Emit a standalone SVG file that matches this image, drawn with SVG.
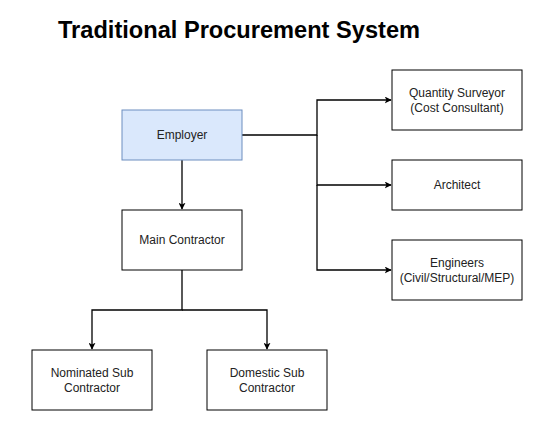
<svg xmlns="http://www.w3.org/2000/svg" width="549" height="431" viewBox="0 0 549 431">
<defs>
<style>
.box{fill:#ffffff;stroke:#000000;stroke-width:1}
.emp{fill:#dae8fc;stroke:#6c8ebf;stroke-width:1}
.lbl{font-family:"Liberation Sans",Arial,sans-serif;font-size:12px;fill:#222222;text-anchor:middle;dominant-baseline:central}
.title{font-family:"Liberation Sans",Arial,sans-serif;font-size:23px;font-weight:bold;fill:#000000}
.edge{fill:none;stroke:#000000;stroke-width:1.3}
</style>
<marker id="arr" viewBox="0 0 10 10" refX="9" refY="5" markerWidth="7" markerHeight="7" markerUnits="userSpaceOnUse" orient="auto">
<path d="M0,0 L10,5 L0,10 L2.5,5 Z" fill="#000000"/>
</marker>
</defs>
<rect width="549" height="431" fill="#ffffff"/>
<text class="title" x="58" y="38" textLength="362" lengthAdjust="spacingAndGlyphs">Traditional Procurement System</text>
<g id="connectors">
<path class="edge" d="M182,160 V209" marker-end="url(#arr)"/>
<path class="edge" d="M242,135 H317 V100 H391" marker-end="url(#arr)"/>
<path class="edge" d="M317,135 V185 H391" marker-end="url(#arr)"/>
<path class="edge" d="M317,185 V270 H391" marker-end="url(#arr)"/>
<path class="edge" d="M182,270 V310 H92 V349" marker-end="url(#arr)"/>
<path class="edge" d="M182,310 H267 V349" marker-end="url(#arr)"/>
</g>
<g id="employer">
<rect class="emp" x="122" y="110" width="120" height="50"/>
<text class="lbl" x="182" y="135">Employer</text>
</g>
<g id="main-contractor">
<rect class="box" x="122" y="210" width="120" height="60"/>
<text class="lbl" x="182" y="240">Main Contractor</text>
</g>
<g id="quantity-surveyor">
<rect class="box" x="392" y="70" width="130" height="60"/>
<text class="lbl" x="457" y="93">Quantity Surveyor</text>
<text class="lbl" x="457" y="107.5">(Cost Consultant)</text>
</g>
<g id="architect">
<rect class="box" x="392" y="160" width="130" height="50"/>
<text class="lbl" x="457" y="185">Architect</text>
</g>
<g id="engineers">
<rect class="box" x="392" y="240" width="130" height="60"/>
<text class="lbl" x="457" y="263">Engineers</text>
<text class="lbl" x="457" y="277.5">(Civil/Structural/MEP)</text>
</g>
<g id="nominated-sub">
<rect class="box" x="32" y="350" width="120" height="60"/>
<text class="lbl" x="92" y="373">Nominated Sub</text>
<text class="lbl" x="92" y="387.5">Contractor</text>
</g>
<g id="domestic-sub">
<rect class="box" x="207" y="350" width="120" height="60"/>
<text class="lbl" x="267" y="373">Domestic Sub</text>
<text class="lbl" x="267" y="387.5">Contractor</text>
</g>
</svg>
